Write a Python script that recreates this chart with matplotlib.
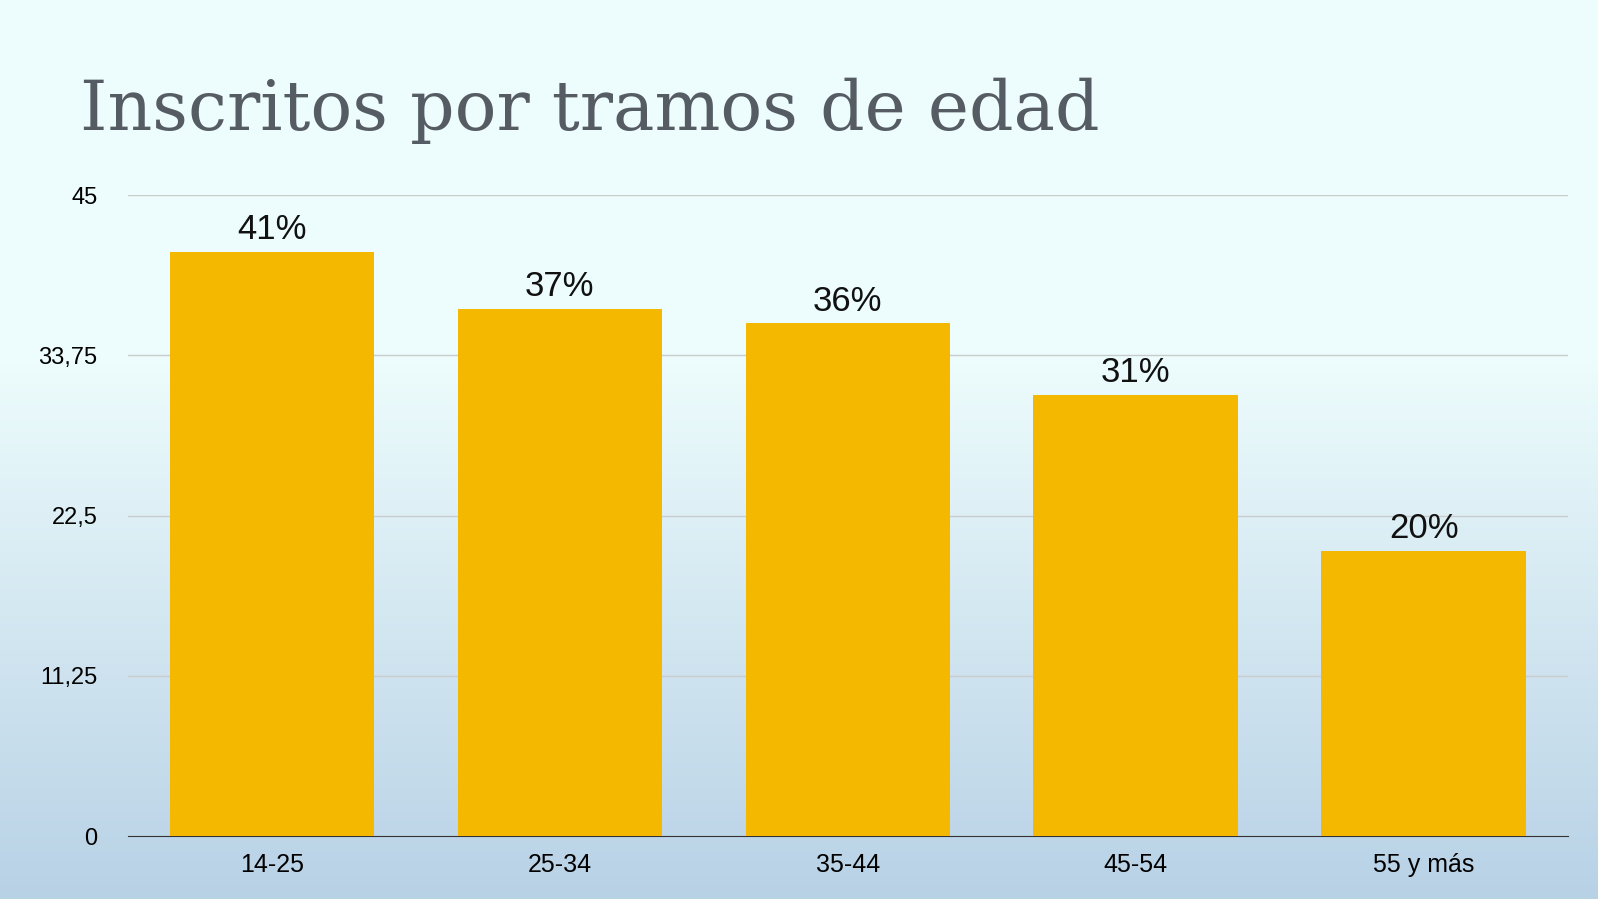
import matplotlib.pyplot as plt
import numpy as np

categories = ['14-25', '25-34', '35-44', '45-54', '55 y más']
values = [41, 37, 36, 31, 20]
labels = ['41%', '37%', '36%', '31%', '20%']
yticks = [0, 11.25, 22.5, 33.75, 45]
ytick_labels = ['0', '11,25', '22,5', '33,75', '45']

plt.rcParams['font.family'] = 'Liberation Sans'
fig = plt.figure(figsize=(15.98, 8.99), dpi=100)

# background gradient
bg = fig.add_axes([0, 0, 1, 1], zorder=-10)
h = np.linspace(0, 1, 256)[:, None]
top = np.array([0.93, 0.99, 0.99])
bot = np.array([0.72, 0.82, 0.90])
t = np.clip((h - 0.40) / 0.60, 0, 1)[..., None]
img = top * (1 - t) + bot * t
img = np.repeat(img, 4, axis=1)
bg.imshow(img, aspect='auto', extent=[0, 1, 0, 1])
bg.axis('off')

ax = fig.add_axes([0.080, 0.070, 0.901, 0.713])
ax.patch.set_alpha(0)
x = np.arange(len(categories))
ax.bar(x, values, width=0.71, color='#f5b800', zorder=3)
for xi, v, lab in zip(x, values, labels):
    ax.text(xi, v + 0.4, lab, ha='center', va='bottom', fontsize=25, color='#111111')

ax.set_xlim(-0.5, len(categories) - 0.5)
ax.set_ylim(0, 45)
ax.set_yticks(yticks)
ax.set_yticklabels(ytick_labels, fontsize=17)
ax.set_xticks(x)
ax.set_xticklabels(categories, fontsize=18)
ax.grid(axis='y', color='#c8cccc', linewidth=1, zorder=0)
ax.tick_params(length=0, pad=12)
ax.tick_params(axis='y', pad=22)
for s in ['top', 'right', 'left']:
    ax.spines[s].set_visible(False)
ax.spines['bottom'].set_color('#333333')

fig.text(0.05, 0.855, 'Inscritos por tramos de edad', fontsize=50,
         family='DejaVu Serif', fontweight='light', color='#555c63', va='baseline')

fig.savefig('out.png', dpi=100)
